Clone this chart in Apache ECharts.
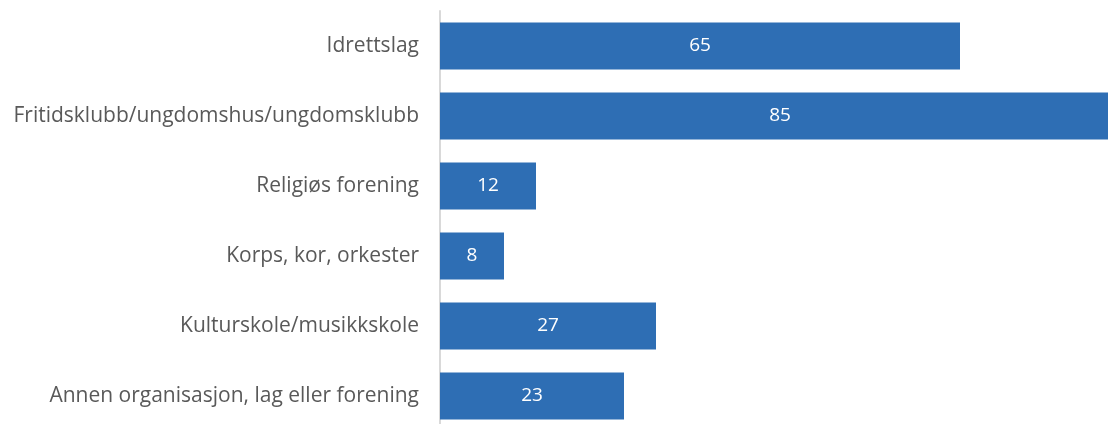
<!DOCTYPE html>
<html>
<head>
<meta charset="utf-8">
<script src="https://cdn.jsdelivr.net/npm/echarts@6/dist/echarts.min.js"></script>
<style>
  html, body { margin: 0; padding: 0; background: #fff; }
  #chart { width: 1108px; height: 424px; }
</style>
</head>
<body>
<div id="chart"></div>
<script>
var categories = [
  'Idrettslag',
  'Fritidsklubb/ungdomshus/ungdomsklubb',
  'Religiøs forening',
  'Korps, kor, orkester',
  'Kulturskole/musikkskole',
  'Annen organisasjon, lag eller forening'
];
var values = [65, 85, 12, 8, 27, 23];

var option = {
  animation: false,
  textStyle: { fontFamily: 'Open Sans' },
  grid: {
    left: 440,
    right: -12,
    top: 11,
    bottom: -7,
    outerBoundsMode: 'none',
    containLabel: false
  },
  xAxis: {
    type: 'value',
    min: 0,
    max: 85,
    show: false
  },
  yAxis: {
    type: 'category',
    inverse: true,
    data: categories,
    axisLine: {
      show: true,
      lineStyle: { color: '#d9d9d9', width: 2 }
    },
    axisTick: { show: false },
    axisLabel: {
      color: '#595959',
      fontSize: 21,
      margin: 21,
      fontFamily: 'Open Sans'
    }
  },
  series: [
    {
      type: 'bar',
      data: values,
      barCategoryGap: '33%',
      itemStyle: { color: '#2e6eb4' },
      label: {
        show: true,
        position: 'inside',
        color: '#ffffff',
        fontSize: 19,
        fontFamily: 'Open Sans'
      }
    }
  ]
};

var myChart = echarts.init(document.getElementById('chart'));
myChart.setOption(option);
window.addEventListener('resize', function () {
  myChart.resize();
});
</script>
</body>
</html>
